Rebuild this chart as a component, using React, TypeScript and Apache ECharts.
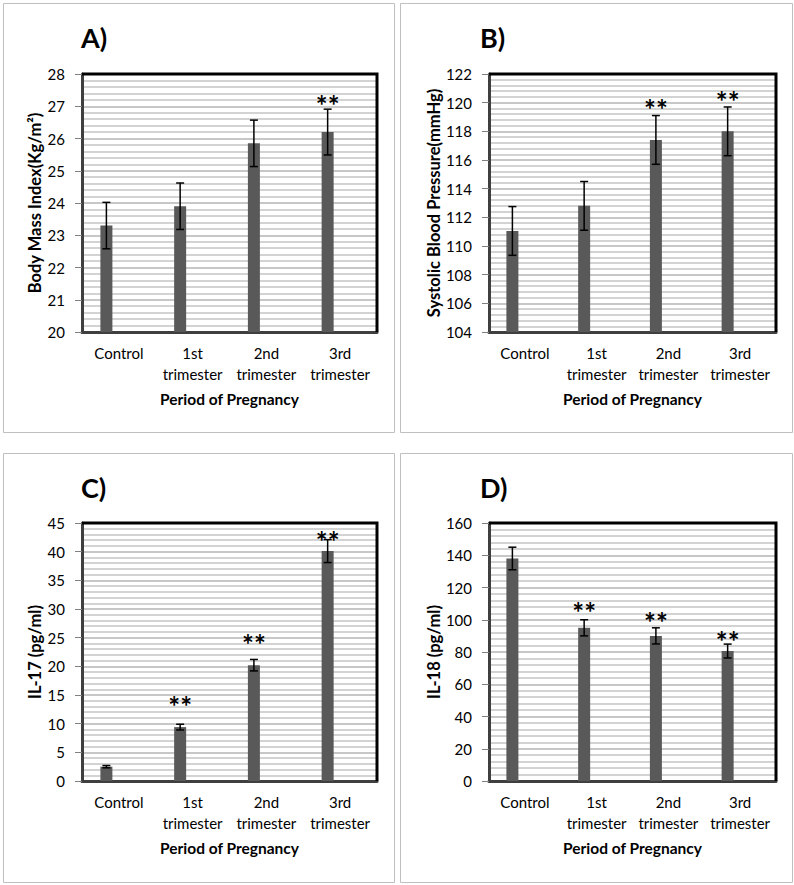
import React, { useEffect, useRef } from "react";
import * as echarts from "echarts";

const categories = ["Control", "1st\ntrimester", "2nd\ntrimester", "3rd\ntrimester"];

const bmiMean = [23.3, 23.9, 25.85, 26.2];
const bmiSD = [0.72, 0.72, 0.72, 0.71];
const bmiSig = [null, null, null, 27.2];

const sbpMean = [111.05, 112.8, 117.4, 118.0];
const sbpSD = [1.7, 1.7, 1.7, 1.7];
const sbpSig = [null, null, 119.9, 120.5];

const il17Mean = [2.5, 9.4, 20.2, 40.1];
const il17SD = [0.2, 0.5, 1.0, 2.0];
const il17Sig = [null, 13.9, 24.8, 42.8];

const il18Mean = [138, 95, 90, 80.6];
const il18SD = [7, 5, 5, 4.3];
const il18Sig = [null, 107.7, 101.7, 89.7];

const letters = ["A)", "B)", "C)", "D)"];
const yTitles = [
  "Body Mass Index(Kg/m\u00B2)",
  "Systolic Blood Pressure(mmHg)",
  "IL-17 (pg/ml)",
  "IL-18 (pg/ml)",
];
const yMins = [20, 104, 0, 0];
const yMaxs = [28, 122, 45, 160];
const yIntervals = [1, 2, 5, 20];
const xTitle = "Period of Pregnancy";

const FONT = "Lato, 'Open Sans', sans-serif";
const BAR_W = 12;
const BAR_GAP = 1.08;
const OFFSET = -(BAR_W * (1 + BAR_GAP)) / 2;
const STAR_SHIFT = 5;

const panels = [
  { mean: bmiMean, sd: bmiSD, sig: bmiSig, grid: { left: 82, top: 74, width: 295, height: 258 }, box: [3, 3, 391, 429], letter: [81, 37], nameGap: 39 },
  { mean: sbpMean, sd: sbpSD, sig: sbpSig, grid: { left: 489, top: 74, width: 287, height: 258 }, box: [400, 3, 392, 429], letter: [480, 37], nameGap: 47 },
  { mean: il17Mean, sd: il17SD, sig: il17Sig, grid: { left: 82, top: 523, width: 295, height: 258 }, box: [3, 453, 391, 429], letter: [81, 487], nameGap: 39 },
  { mean: il18Mean, sd: il18SD, sig: il18Sig, grid: { left: 489, top: 523, width: 287, height: 258 }, box: [400, 453, 392, 429], letter: [480, 487], nameGap: 47 },
];

export default function App() {
  const ref = useRef<HTMLDivElement>(null);
  useEffect(() => {
    document.body.style.margin = "0";
    if (!ref.current) return;
    const chart = echarts.init(ref.current, null, { renderer: "svg" });

    const grids: any[] = [];
    const xAxes: any[] = [];
    const yAxes: any[] = [];
    const series: any[] = [];
    const graphics: any[] = [];

    panels.forEach((p, k) => {
      grids.push({
        ...p.grid,
        show: true,
        borderWidth: 0,
        backgroundColor: "#fff",
        containLabel: false,
      });
      xAxes.push({
        type: "category",
        gridIndex: k,
        data: categories,
        axisLine: { show: true, lineStyle: { color: "#3f3f3f", width: 3 } },
        axisTick: { show: false },
        axisLabel: { color: "#000", fontSize: 15, fontFamily: FONT, lineHeight: 21, margin: 10, interval: 0 },
        name: xTitle,
        nameLocation: "middle",
        nameGap: 59,
        nameTextStyle: { color: "#000", fontSize: 15.5, fontWeight: "bold", fontFamily: FONT },
      });
      yAxes.push({
        type: "value",
        gridIndex: k,
        min: yMins[k],
        max: yMaxs[k],
        interval: yIntervals[k],
        axisLine: { show: true, lineStyle: { color: "#3f3f3f", width: 3 } },
        axisTick: { show: true, length: 7, lineStyle: { color: "#808080", width: 1 } },
        axisLabel: { color: "#000", fontSize: 15, fontFamily: FONT, margin: 17 },
        splitLine: { show: true, lineStyle: { color: "#b4b4b4", width: 1.5 } },
        minorTick: { show: false, splitNumber: 5 },
        minorSplitLine: { show: true, lineStyle: { color: "#c4c4c4", width: 1.5 } },
        name: yTitles[k],
        nameLocation: "middle",
        nameGap: p.nameGap,
        nameTextStyle: { color: "#000", fontSize: 16.5, fontWeight: "bold", fontFamily: FONT },
      });
      series.push({
        type: "bar",
        xAxisIndex: k,
        yAxisIndex: k,
        data: p.mean,
        barWidth: BAR_W,
        barGap: `${BAR_GAP * 100}%`,
        itemStyle: { color: "#595959" },
        z: 3,
      });
      series.push({
        type: "bar",
        xAxisIndex: k,
        yAxisIndex: k,
        data: p.mean.map(() => "-"),
        barWidth: BAR_W,
        barGap: `${BAR_GAP * 100}%`,
        itemStyle: { color: "transparent" },
        silent: true,
      });
      series.push({
        type: "custom",
        xAxisIndex: k,
        yAxisIndex: k,
        data: p.mean.map((m, i) => [i, m, p.sd[i]]),
        encode: { x: 0, y: 1 },
        z: 5,
        renderItem: (params: any, api: any) => {
          const i = api.value(0);
          const m = api.value(1);
          const s = api.value(2);
          const top = api.coord([i, m + s]);
          const bot = api.coord([i, m - s]);
          const x = top[0] + OFFSET;
          const st = { stroke: "#000", lineWidth: 1.5 };
          return {
            type: "group",
            children: [
              { type: "line", shape: { x1: x, y1: top[1], x2: x, y2: bot[1] }, style: st },
              { type: "line", shape: { x1: x - 4, y1: top[1], x2: x + 4, y2: top[1] }, style: st },
              { type: "line", shape: { x1: x - 4, y1: bot[1], x2: x + 4, y2: bot[1] }, style: st },
            ],
          };
        },
      });
      const sigData: any[] = [];
      p.sig.forEach((v, i) => {
        if (v !== null) sigData.push([i, v]);
      });
      series.push({
        type: "custom",
        xAxisIndex: k,
        yAxisIndex: k,
        data: sigData,
        encode: { x: 0, y: 1 },
        z: 6,
        renderItem: (params: any, api: any) => {
          const c = api.coord([api.value(0), api.value(1)]);
          return {
            type: "text",
            x: c[0] + OFFSET,
            y: c[1] + STAR_SHIFT,
            style: {
              text: "**",
              fontSize: 28,
              fontWeight: "bold",
              fontFamily: FONT,
              fill: "#000",
              align: "center",
              verticalAlign: "middle",
            },
          };
        },
      });
      const g = p.grid;
      graphics.push({
        type: "polyline",
        shape: {
          points: [
            [g.left, g.top],
            [g.left + g.width, g.top],
            [g.left + g.width, g.top + g.height],
          ],
        },
        style: { stroke: "#000", lineWidth: 3, fill: "none" },
        silent: true,
        z: 100,
      });
      graphics.push({
        type: "rect",
        shape: { x: p.box[0] + 0.5, y: p.box[1] + 0.5, width: p.box[2], height: p.box[3] },
        style: { fill: "none", stroke: "#bfbfbf", lineWidth: 1 },
        silent: true,
        z: -10,
      });
      graphics.push({
        type: "text",
        x: p.letter[0],
        y: p.letter[1],
        style: {
          text: letters[k],
          fontSize: 27,
          fontWeight: "bold",
          fontFamily: FONT,
          fill: "#000",
          align: "left",
          verticalAlign: "middle",
        },
      });
    });

    chart.setOption({
      animation: false,
      backgroundColor: "#fff",
      grid: grids,
      xAxis: xAxes,
      yAxis: yAxes,
      series,
      graphic: graphics,
    });
    return () => chart.dispose();
  }, []);
  return <div ref={ref} style={{ width: 794, height: 885 }} />;
}
